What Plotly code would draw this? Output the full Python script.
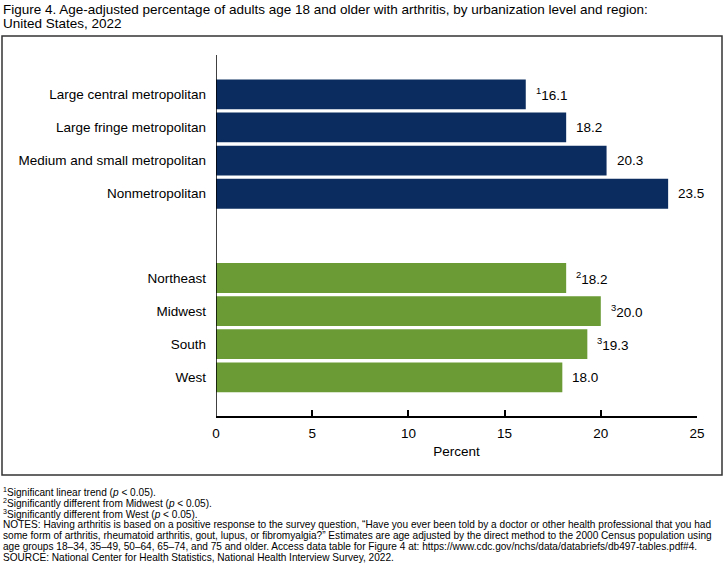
import plotly.graph_objects as go

urban_cats = ["Large central metropolitan", "Large fringe metropolitan",
              "Medium and small metropolitan", "Nonmetropolitan"]
urban_vals = [16.1, 18.2, 20.3, 23.5]
urban_marks = ["1", "", "", ""]

region_cats = ["Northeast", "Midwest", "South", "West"]
region_vals = [18.2, 20.0, 19.3, 18.0]
region_marks = ["2", "3", "3", ""]

x_ticks = [0, 5, 10, 15, 20, 25]

title_lines = [
    "Figure 4. Age-adjusted percentage of adults age 18 and older with arthritis, by urbanization level and region:",
    "United States, 2022",
]
footnotes = [
    "<sup>1</sup>Significant linear trend (<i>p</i> < 0.05).",
    "<sup>2</sup>Significantly different from Midwest (<i>p</i> < 0.05).",
    "<sup>3</sup>Significantly different from West (<i>p</i> < 0.05).",
    "NOTES: Having arthritis is based on a positive response to the survey question, \u201cHave you ever been told by a doctor or other health professional that you had",
    "some form of arthritis, rheumatoid arthritis, gout, lupus, or fibromyalgia?\u201d Estimates are age adjusted by the direct method to the 2000 Census population using",
    "age groups 18\u201334, 35\u201349, 50\u201364, 65\u201374, and 75 and older. Access data table for Figure 4 at: https://www.cdc.gov/nchs/data/databriefs/db497-tables.pdf#4.",
    "SOURCE: National Center for Health Statistics, National Health Interview Survey, 2022.",
]

NAVY = "#0b2c5e"
GREEN = "#6a9b34"
FONT = "Liberation Sans, Arial, sans-serif"
FS = 13.5

W, H = 725, 567
L, R, T, B = 216, 28, 55, 150
PH = H - T - B
PW = W - L - R


def py(p):
    return (H - B - p) / PH


def px(p):
    return (p - L) / PW


fig = go.Figure()
fig.add_trace(go.Bar(y=urban_cats, x=urban_vals, orientation="h",
                     marker=dict(color=NAVY, line=dict(width=0)),
                     width=0.9, xaxis="x", yaxis="y2", hoverinfo="x+y"))
fig.add_trace(go.Bar(y=region_cats, x=region_vals, orientation="h",
                     marker=dict(color=GREEN, line=dict(width=0)),
                     width=0.9, xaxis="x", yaxis="y", hoverinfo="x+y"))

annotations = []
for cats, vals, marks, yref in [(urban_cats, urban_vals, urban_marks, "y2"),
                                (region_cats, region_vals, region_marks, "y")]:
    for c, v, m in zip(cats, vals, marks):
        txt = (f"<sup>{m}</sup>" if m else "") + f"{v:.1f}"
        annotations.append(dict(x=v, y=c, xref="x", yref=yref, text=txt,
                                showarrow=False, xanchor="left", yanchor="middle",
                                xshift=8, font=dict(size=FS, color="black", family=FONT)))

title_y = [10, 24]
for t, yy in zip(title_lines, title_y):
    annotations.append(dict(x=px(1), y=py(yy), xref="paper", yref="paper", text=t,
                            showarrow=False, xanchor="left", yanchor="middle",
                            font=dict(size=FS, color="black", family=FONT)))

foot_y = [491.5, 502.5, 513.5, 524.5, 535.5, 546.5, 557.5]
for t, yy in zip(footnotes, foot_y):
    annotations.append(dict(x=px(1), y=py(yy), xref="paper", yref="paper", text=t,
                            showarrow=False, xanchor="left", yanchor="middle",
                            font=dict(size=10.1, color="black", family=FONT)))

shapes = [
    dict(type="rect", xref="paper", yref="paper", x0=px(2), x1=px(722),
         y0=py(475), y1=py(36), line=dict(color="#333333", width=1.5), layer="below"),
    dict(type="line", xref="x", yref="paper", x0=0, x1=0, y0=0, y1=1,
         line=dict(color="black", width=1.5)),
]

fig.update_layout(
    width=W, height=H,
    margin=dict(l=L, r=R, t=T, b=B, pad=0),
    paper_bgcolor="white", plot_bgcolor="white",
    showlegend=False,
    font=dict(family=FONT, size=FS, color="black"),
    xaxis=dict(range=[0, 25], tickvals=x_ticks, ticks="inside", ticklen=6,
               tickwidth=1.5, tickcolor="black", showline=True, linecolor="black",
               linewidth=1.5, showgrid=False, zeroline=False,
               anchor="free", position=0, ticklabelstandoff=4,
               title=dict(text="Percent", standoff=6, font=dict(size=FS)),
               tickfont=dict(size=FS), fixedrange=True),
    yaxis=dict(domain=[0.064, 0.4297], autorange="reversed", showgrid=False,
               zeroline=False, showline=False, ticks="", ticklabelstandoff=9,
               tickfont=dict(size=FS), anchor="x", fixedrange=True),
    yaxis2=dict(domain=[0.571, 0.9372], autorange="reversed", showgrid=False,
                zeroline=False, showline=False, ticks="", ticklabelstandoff=9,
                tickfont=dict(size=FS), anchor="x", fixedrange=True),
    annotations=annotations,
    shapes=shapes,
    bargap=0.1,
)

fig.write_html("out.html", config={"displayModeBar": False},
               post_script="document.body.style.margin='0';document.body.style.overflow='hidden';")
